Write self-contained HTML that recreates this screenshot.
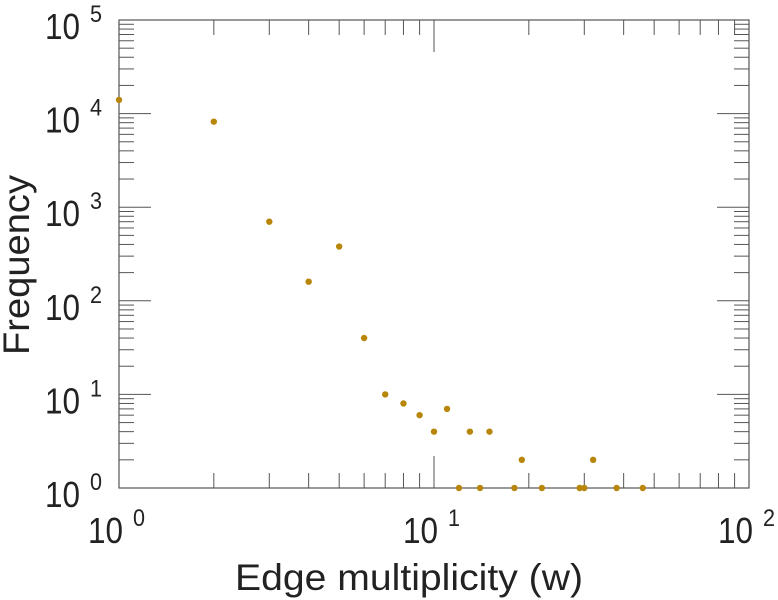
<!DOCTYPE html>
<html><head><meta charset="utf-8"><style>
html,body{margin:0;padding:0;background:#fff;}
svg{display:block;font-family:"Liberation Sans","DejaVu Sans",sans-serif;}
</style></head><body>
<svg id="chart" width="778" height="600" viewBox="0 0 778 600">
<g id="axes"></g><g id="pts"></g>
</svg>
<script>
const xValues=[1,2,3,4,5,6,7,8,9,10,11,12,13,14,15,18,19,22,29,30,32,38,46];
const yValues=[14000,8200,700,160,380,40,10,8,6,4,7,1,4,1,4,1,2,1,1,1,2,1,1];
const xTickExps=[0,1,2];
const yTickExps=[0,1,2,3,4,5];
const L=119,R=749,T=20,B=488;
const NS="http://www.w3.org/2000/svg";
function xs(v){return L+Math.log10(v)/2*(R-L);}
function ys(v){return B-Math.log10(v)/5*(B-T);}
const ax=document.getElementById('axes'),pg=document.getElementById('pts');
function mk(tag,at,par){const e=document.createElementNS(NS,tag);for(const k in at)e.setAttribute(k,at[k]);par.appendChild(e);return e;}
const frame=mk('rect',{x:L,y:T,width:R-L,height:B-T,fill:'none',stroke:'#555','stroke-width':1.2},ax);


for(let d=0;d<2;d++){for(let m=1;m<10;m++){const x=xs(m*Math.pow(10,d));const len=m===1?32:15;
mk('line',{x1:x,y1:B,x2:x,y2:B-len,stroke:'#555','stroke-width':1},ax);
mk('line',{x1:x,y1:T,x2:x,y2:T+len,stroke:'#555','stroke-width':1},ax);}}
for(let d=0;d<5;d++){for(let m=1;m<10;m++){const y=ys(m*Math.pow(10,d));const len=m===1?32:15;
mk('line',{x1:L,y1:y,x2:L+len,y2:y,stroke:'#555','stroke-width':1},ax);
mk('line',{x1:R,y1:y,x2:R-len,y2:y,stroke:'#555','stroke-width':1},ax);}}
function label(x,y,e,name){
 const a=mk('text',{x:x,y:y,'font-size':36,fill:'#222',textLength:35,lengthAdjust:'spacingAndGlyphs'},ax);a.textContent='10';
 
 
 const b=mk('text',{x:x+45,y:y-17,'font-size':24,fill:'#222',textLength:12,lengthAdjust:'spacingAndGlyphs'},ax);b.textContent=String(e);
 
 
}
xTickExps.forEach(e=>label(xs(Math.pow(10,e))-31,543,e,'x-tick-label'));
yTickExps.forEach(e=>label(45,ys(Math.pow(10,e))+19,e,'y-tick-label'));
const xt=mk('text',{x:235,y:590,'font-size':37,fill:'#222',textLength:348,lengthAdjust:'spacingAndGlyphs'},ax);xt.textContent='Edge multiplicity (w)';


const yt=mk('text',{x:0,y:0,'font-size':37,fill:'#222',textLength:180,lengthAdjust:'spacingAndGlyphs',transform:'translate(29,355) rotate(-90)'},ax);yt.textContent='Frequency';


xValues.forEach((v,i)=>{const c=mk('circle',{cx:xs(v),cy:ys(yValues[i]),r:3.2,fill:'#b8860b'},pg);

});
</script>
</body></html>
